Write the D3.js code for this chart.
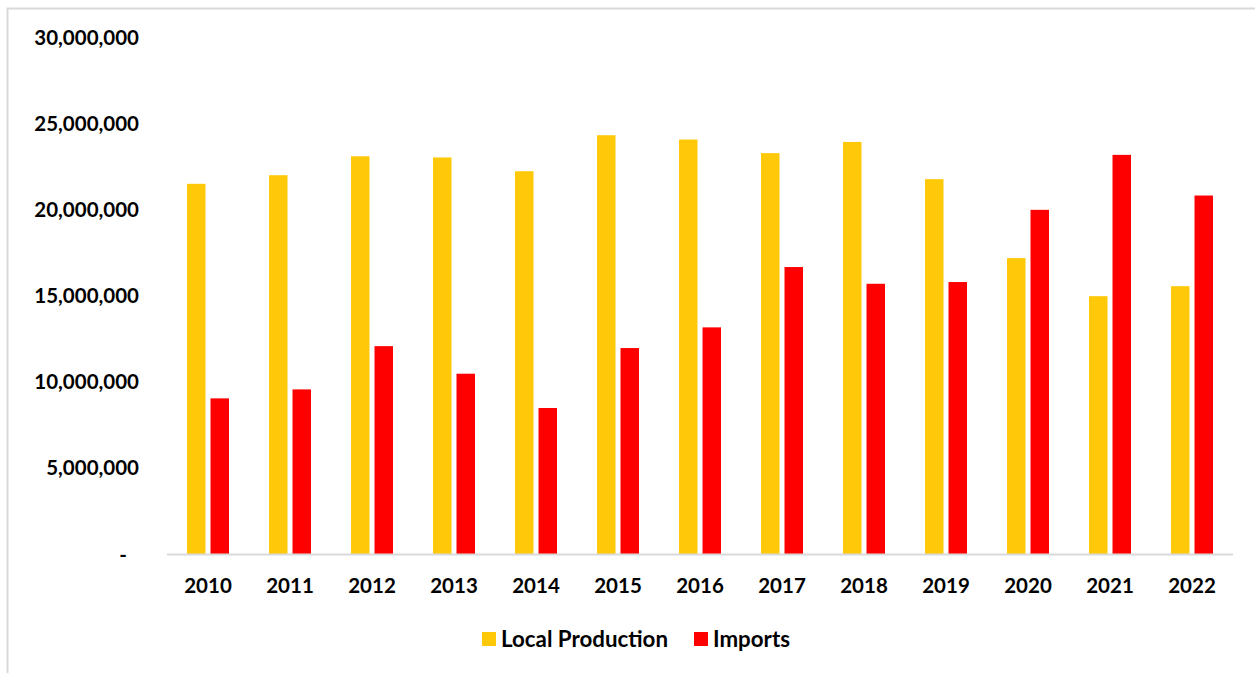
<!DOCTYPE html>
<html>
<head>
<meta charset="utf-8">
<script src="https://cdn.jsdelivr.net/npm/d3@7"></script>
<style>
  html, body { margin: 0; padding: 0; background: #fff; }
  svg { display: block; }
  text { font-family: Lato, "Open Sans", sans-serif; font-weight: 700; fill: #000; }
</style>
</head>
<body>
<svg id="chart" width="1255" height="673"></svg>
<script>
// Annual volumes: local production vs imports
const years = ["2010", "2011", "2012", "2013", "2014", "2015", "2016",
               "2017", "2018", "2019", "2020", "2021", "2022"];
const localProduction = [21510000, 22010000, 23110000, 23040000, 22240000, 24330000,
                         24080000, 23290000, 23940000, 21780000, 17200000, 14990000, 15570000];
const imports = [9060000, 9580000, 12090000, 10490000, 8500000, 11980000,
                 13180000, 16680000, 15710000, 15810000, 20000000, 23190000, 20830000];
const seriesNames = ["Local Production", "Imports"];
const seriesColors = ["#FFC90A", "#FF0000"];
const yTicks = [0, 5000000, 10000000, 15000000, 20000000, 25000000, 30000000];

const svg = d3.select("#chart");
const W = 1255, H = 673;
const plot = { left: 167, right: 1233, top: 37.5, bottom: 554.5 };

// outer chart frame
svg.append("rect")
  .attr("x", 7.5).attr("y", 8.5)
  .attr("width", W + 20).attr("height", H + 20)
  .attr("fill", "#fff").attr("stroke", "#d9d9d9").attr("stroke-width", 2);

const x0 = d3.scaleBand().domain(years).range([plot.left, plot.right]).paddingInner(0).paddingOuter(0);
const x1 = d3.scaleBand().domain(seriesNames).range([0, x0.bandwidth()])
  .paddingInner(0.213).paddingOuter(0.851);
const y = d3.scaleLinear().domain([0, 30000000]).range([plot.bottom, plot.top]);

const rows = years.map((yr, i) => ({ year: yr, values: [localProduction[i], imports[i]] }));

// bars
const groups = svg.append("g").selectAll("g")
  .data(rows).join("g")
  .attr("transform", d => `translate(${x0(d.year)},0)`);

groups.selectAll("rect")
  .data(d => d.values.map((v, k) => ({ key: seriesNames[k], value: v, color: seriesColors[k] })))
  .join("rect")
  .attr("x", d => x1(d.key))
  .attr("width", x1.bandwidth())
  .attr("y", d => y(d.value))
  .attr("height", d => y(0) - y(d.value))
  .attr("fill", d => d.color);

// y axis labels
const fmt = d3.format(",");
const yAxis = svg.append("g")
  .attr("transform", `translate(${plot.left},0)`)
  .call(d3.axisLeft(y).tickValues(yTicks).tickSize(0).tickPadding(28)
    .tickFormat(d => d === 0 ? "-" : fmt(d)));
yAxis.select(".domain").remove();
yAxis.selectAll("text")
  .attr("font-size", 20.5)
  .attr("font-family", "Lato, sans-serif")
  .attr("font-weight", 700)
  .attr("dx", d => d === 0 ? -12 : 0);

// baseline
svg.append("line")
  .attr("x1", plot.left).attr("x2", plot.right)
  .attr("y1", y(0)).attr("y2", y(0))
  .attr("stroke", "#d9d9d9").attr("stroke-width", 2);

// x axis labels
const xAxis = svg.append("g")
  .attr("transform", `translate(0,${plot.bottom})`)
  .call(d3.axisBottom(x0).tickSize(0).tickPadding(24));
xAxis.select(".domain").remove();
xAxis.selectAll("text")
  .attr("font-size", 20.5)
  .attr("font-family", "Lato, sans-serif")
  .attr("font-weight", 700);

// legend
const legendItems = [
  { name: seriesNames[0], color: seriesColors[0], x: 482 },
  { name: seriesNames[1], color: seriesColors[1], x: 694 }
];
const legend = svg.append("g");
const li = legend.selectAll("g").data(legendItems).join("g")
  .attr("transform", d => `translate(${d.x},632)`);
li.append("rect").attr("width", 14).attr("height", 14).attr("fill", d => d.color);
li.append("text")
  .attr("x", 19).attr("y", 7).attr("dy", "0.35em")
  .attr("font-size", 22.3)
  .text(d => d.name);
</script>
</body>
</html>
